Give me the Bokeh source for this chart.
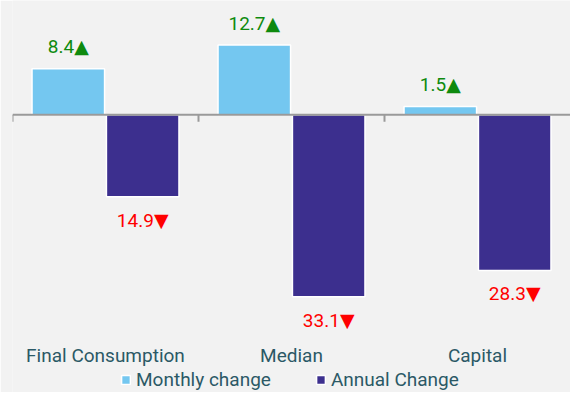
from bokeh.plotting import figure
from bokeh.models import ColumnDataSource, Range1d, FactorRange, Span, Legend, LegendItem
from bokeh.transform import dodge
from bokeh.core.properties import value
from bokeh.embed import file_html
from bokeh.resources import INLINE

categories = ["Final Consumption", "Median", "Capital"]
monthly = [8.4, 12.7, 1.5]
annual = [-14.9, -33.1, -28.3]
series_names = ["Monthly change", "Annual Change"]

FONT = "Roboto"
LABEL_FONT = "Roboto, 'DejaVu Sans'"
TEXT_COLOR = "#2b5966"
BG = "#f2f2f2"
FS = "19px"

src = ColumnDataSource(dict(
    cat=categories,
    monthly=monthly,
    annual=annual,
    mlab=[f"{v}\u25B2" for v in monthly],
    alab=[f"{abs(v)}\u25BC" for v in annual],
))

p = figure(width=570, height=392, x_range=FactorRange(*categories),
           y_range=Range1d(-50.5, 20.8), output_backend="svg",
           toolbar_location=None, background_fill_color=BG,
           border_fill_color=BG, outline_line_color=None,
           min_border_left=12, min_border_right=0, min_border_top=0,
           min_border_bottom=0)

r1 = p.vbar(x=dodge("cat", -0.2, range=p.x_range), top="monthly", width=0.39,
            source=src, fill_color="#74c7f0", line_color="white", line_width=1.5)
r2 = p.vbar(x=dodge("cat", 0.2, range=p.x_range), top="annual", width=0.39,
            source=src, fill_color="#3c2f8e", line_color="white", line_width=1.5)

# zero line and boundary ticks
p.add_layout(Span(location=0, dimension="width", line_color="#9a9a9a", line_width=2))
p.segment(x0=dodge("cat", -0.5, range=p.x_range), y0=0,
          x1=dodge("cat", -0.5, range=p.x_range), y1=-1.25,
          source=src, line_color="#9a9a9a", line_width=2)

p.text(x=dodge("cat", -0.2, range=p.x_range), y="monthly", text="mlab", source=src,
       text_align="center", text_baseline="alphabetic", y_offset=-22,
       text_font=value(LABEL_FONT), text_font_size=FS, text_color="#0e8a0e")
p.text(x=dodge("cat", 0.2, range=p.x_range), y="annual", text="alab", source=src,
       text_align="center", text_baseline="top", y_offset=12,
       text_font=value(LABEL_FONT), text_font_size=FS, text_color="#ff0000")

p.yaxis.visible = False
p.xgrid.visible = False
p.ygrid.visible = False
ax = p.xaxis[0]
ax.fixed_location = -39.1
ax.axis_line_color = None
ax.major_tick_line_color = None
ax.minor_tick_line_color = None
ax.major_label_text_font = FONT
ax.major_label_text_font_size = FS
ax.major_label_text_color = TEXT_COLOR
ax.major_label_standoff = 8

legend = Legend(items=[LegendItem(label=series_names[0], renderers=[r1]),
                       LegendItem(label=series_names[1], renderers=[r2])],
                orientation="horizontal", location=(108, 1),
                background_fill_alpha=0, border_line_color=None,
                label_text_font=FONT, label_text_font_size=FS,
                label_text_color=TEXT_COLOR, glyph_width=11, glyph_height=11,
                label_standoff=5, spacing=44, padding=0, margin=0)
p.add_layout(legend)

open("out.html", "w").write(file_html(p, INLINE))
